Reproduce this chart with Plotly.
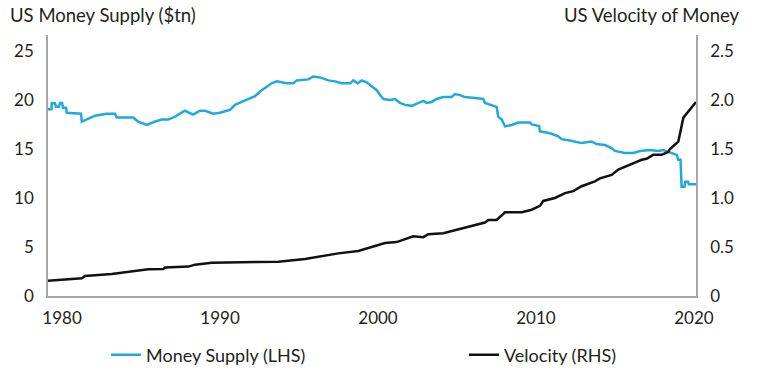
import plotly.graph_objects as go

# Money supply (LHS, $tn)
ms_years = [1979.11, 1979.33, 1979.35, 1979.55, 1979.62, 1979.8, 1979.87, 1980.0, 1980.06, 1980.25,
            1980.30, 1981.01, 1981.2, 1981.25, 1981.56, 1982.09, 1982.83, 1983.35, 1983.46, 1984.51,
            1984.81, 1985.36, 1985.89, 1986.31, 1986.73, 1987.15, 1987.78, 1988.29, 1988.73, 1989.05,
            1989.58, 1990.0, 1990.63, 1990.95, 1991.37, 1991.79, 1992.22, 1992.64, 1992.96, 1993.27,
            1993.59, 1993.9, 1994.22, 1994.64, 1994.85, 1995.59, 1995.9, 1996.33, 1996.85, 1997.28,
            1997.7, 1998.23, 1998.44, 1998.71, 1998.97, 1999.28, 1999.6, 1999.92, 2000.13, 2000.34,
            2000.76, 2001.08, 2001.39, 2001.71, 2002.13, 2002.55, 2002.87, 2003.08, 2003.4, 2003.71,
            2004.13, 2004.66, 2004.87, 2005.19, 2005.5, 2006.14, 2006.66, 2006.77, 2007.09, 2007.51,
            2007.61, 2007.83, 2008.04, 2008.46, 2008.88, 2009.62, 2009.73, 2010.2, 2010.25, 2010.89,
            2011.41, 2011.63, 2012.05, 2012.89, 2013.53, 2013.84, 2014.37, 2014.79, 2015.0, 2015.63,
            2016.16, 2016.58, 2017.22, 2017.74, 2018.06, 2018.59, 2018.91, 2019.01, 2019.15, 2019.22,
            2019.40, 2019.45, 2019.62, 2019.68, 2020.13]
ms_values = [19.05, 19.05, 19.66, 19.66, 19.3, 19.3, 19.7, 19.7, 19.2, 19.2,
             18.7, 18.6, 18.6, 17.8, 18.0, 18.4, 18.6, 18.6, 18.2, 18.2,
             17.8, 17.45, 17.8, 18.0, 18.0, 18.3, 18.9, 18.5, 18.9, 18.9,
             18.6, 18.7, 19.0, 19.5, 19.8, 20.1, 20.4, 21.0, 21.4, 21.7,
             21.9, 21.8, 21.7, 21.7, 22.0, 22.1, 22.4, 22.3, 22.0, 21.9,
             21.7, 21.7, 22.0, 21.7, 22.0, 21.8, 21.4, 21.0, 20.5, 20.1,
             20.0, 20.1, 19.7, 19.5, 19.4, 19.7, 19.9, 19.7, 19.8, 20.1,
             20.3, 20.3, 20.6, 20.5, 20.3, 20.2, 20.1, 19.7, 19.5, 19.3,
             18.3, 18.0, 17.3, 17.45, 17.7, 17.7, 17.5, 17.35, 16.8, 16.6,
             16.3, 16.0, 15.9, 15.6, 15.75, 15.5, 15.4, 15.1, 14.8, 14.6,
             14.6, 14.8, 14.9, 14.8, 14.9, 14.6, 14.4, 13.9, 13.9, 11.15,
             11.15, 11.65, 11.65, 11.4, 11.4]

# Velocity (RHS)
vel_years = [1979.11, 1981.25, 1981.46, 1983.14, 1985.46, 1986.41, 1986.52, 1988.0, 1988.42, 1989.47,
             1993.69, 1995.38, 1997.49, 1998.75, 1999.6, 2000.44, 2001.18, 2002.23, 2002.87, 2003.18,
             2004.13, 2005.5, 2006.77, 2006.98, 2007.51, 2008.04, 2009.1, 2009.73, 2010.25, 2010.46,
             2011.2, 2011.84, 2012.36, 2012.89, 2013.73, 2014.05, 2014.79, 2015.21, 2016.05, 2016.69,
             2017.0, 2017.42, 2017.95, 2018.37, 2018.48, 2019.01, 2019.33, 2020.13]
vel_values = [0.156, 0.18, 0.204, 0.224, 0.272, 0.276, 0.29, 0.30, 0.32, 0.34,
              0.35, 0.377, 0.435, 0.46, 0.50, 0.54, 0.55, 0.61, 0.60, 0.63,
              0.64, 0.70, 0.75, 0.775, 0.775, 0.854, 0.854, 0.88, 0.92, 0.97,
              1.00, 1.05, 1.07, 1.12, 1.17, 1.20, 1.235, 1.29, 1.35, 1.39,
              1.40, 1.44, 1.44, 1.47, 1.50, 1.575, 1.82, 1.98]

x_ticks = [1980, 1990, 2000, 2010, 2020]
left_ticks = [0, 5, 10, 15, 20, 25]
right_ticks = [0, 0.5, 1.0, 1.5, 2.0, 2.5]
right_labels = ["0", "0.5", "1.0", "1.5", "2.0", "2.5"]

BLUE = "#1EA9E1"
BLACK = "#111111"
TXT = "#231F20"
AX = "#A6A6A6"
FONT = "Lato"
W, H = 758, 373

fig = go.Figure()
fig.add_trace(go.Scatter(x=ms_years, y=ms_values, mode="lines", name="Money Supply (LHS)",
                         line=dict(color=BLUE, width=2.5), yaxis="y", legend="legend"))
fig.add_trace(go.Scatter(x=vel_years, y=vel_values, mode="lines", name="Velocity (RHS)",
                         line=dict(color=BLACK, width=2.5), yaxis="y2", legend="legend2"))

leg_common = dict(orientation="h", xref="container", yref="container", xanchor="left",
                  yanchor="middle", font=dict(size=18, color=TXT), bgcolor="rgba(0,0,0,0)")

fig.update_layout(
    width=W, height=H,
    margin=dict(l=48, r=62, t=35, b=77, autoexpand=False),
    paper_bgcolor="white", plot_bgcolor="white",
    font=dict(family=FONT, size=17, color=TXT),
    showlegend=True,
    legend=dict(x=106 / W, y=(H - 355) / H, **leg_common),
    legend2=dict(x=464 / W, y=(H - 355) / H, **leg_common),
    xaxis=dict(range=[1979.11, 2020.13], tickvals=x_ticks, ticktext=[str(v) for v in x_ticks],
               showgrid=False, zeroline=False, showline=True, linecolor=AX, linewidth=1.5,
               ticks="outside", ticklen=6, tickcolor="rgba(0,0,0,0)", tickfont=dict(size=17, color=TXT)),
    yaxis=dict(range=[0, 26.63], tickvals=left_ticks, ticktext=[str(v) for v in left_ticks],
               showgrid=False, zeroline=False, showline=True, linecolor=AX, linewidth=1.5,
               ticks="outside", ticklen=9, tickcolor="rgba(0,0,0,0)", tickfont=dict(size=17, color=TXT)),
    yaxis2=dict(range=[0, 2.663], tickvals=right_ticks, ticktext=right_labels, overlaying="y",
                side="right", showgrid=False, zeroline=False, showline=True, linecolor=AX,
                linewidth=1.5, ticks="outside", ticklen=9, tickcolor="rgba(0,0,0,0)",
                tickfont=dict(size=17, color=TXT)),
    annotations=[
        dict(text="US Money Supply ($tn)", xref="paper", yref="paper", x=-40 / 648, y=1 + 20 / 261,
             xanchor="left", yanchor="middle", showarrow=False, font=dict(size=18.5, color=TXT)),
        dict(text="US Velocity of Money", xref="paper", yref="paper", x=1 + 46 / 648, y=1 + 20 / 261,
             xanchor="right", yanchor="middle", showarrow=False, font=dict(size=18.5, color=TXT)),
    ],
)

fig.write_html("out.html", config={"displayModeBar": False},
               post_script="document.body.style.margin='0';")
